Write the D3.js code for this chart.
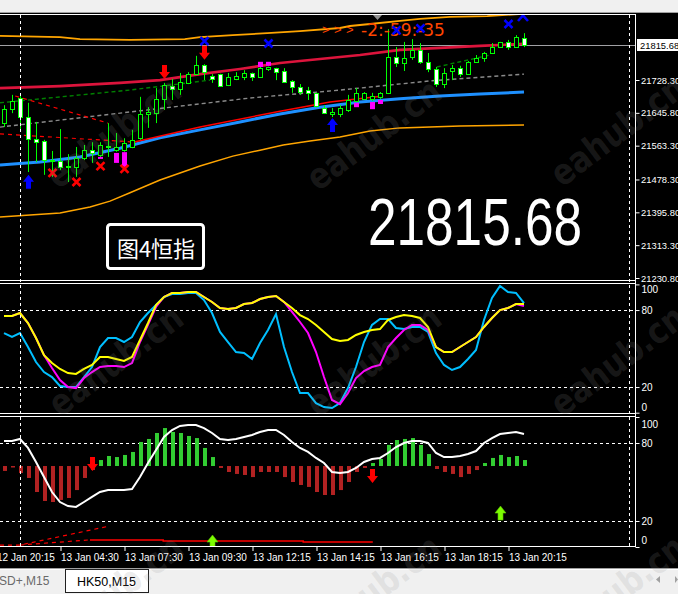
<!DOCTYPE html>
<html><head><meta charset="utf-8">
<script src="https://cdn.jsdelivr.net/npm/d3@7"></script>
<style>html,body{margin:0;padding:0;background:#000;overflow:hidden}svg{display:block}</style>
</head><body><svg id="c" width="678" height="594"></svg>
<script>
// ---------- DATA ----------
const openP  = [21620,21655,21683,21635,21580,21575,21527,21525,21510,21510,21532,21552,21540,21563,21552,21552,21560,21582,21643,21645,21681,21713,21706,21721,21743,21766,21738,21743,21716,21731,21736,21746,21736,21756,21758,21751,21726,21711,21703,21696,21658,21643,21643,21653,21676,21681,21681,21686,21696,21786,21771,21786,21804,21774,21756,21718,21751,21758,21743,21774,21784,21796,21811,21824,21811,21834];
const highP  = [21665,21691,21688,21671,21623,21578,21550,21605,21542,21560,21565,21572,21572,21620,21595,21582,21603,21686,21660,21708,21721,21731,21746,21748,21789,21768,21743,21744,21746,21748,21753,21747,21766,21762,21759,21758,21728,21718,21711,21697,21665,21658,21665,21691,21708,21698,21696,21698,21856,21811,21824,21831,21821,21796,21761,21758,21766,21764,21776,21791,21799,21821,21824,21829,21841,21846];
const lowP   = [21610,21645,21598,21497,21522,21490,21485,21502,21472,21485,21527,21520,21535,21535,21548,21548,21557,21578,21608,21620,21653,21678,21691,21718,21741,21728,21721,21711,21713,21728,21728,21726,21734,21751,21728,21721,21696,21691,21678,21660,21643,21635,21635,21648,21673,21678,21676,21681,21693,21761,21751,21779,21769,21748,21711,21708,21728,21736,21741,21771,21774,21796,21809,21804,21809,21811];
const closeP = [21655,21676,21635,21580,21573,21527,21525,21510,21511,21532,21552,21545,21565,21562,21560,21570,21578,21643,21648,21681,21716,21706,21723,21743,21766,21748,21731,21713,21736,21738,21746,21736,21758,21761,21748,21723,21711,21698,21696,21663,21645,21648,21658,21678,21696,21696,21688,21696,21786,21771,21784,21804,21774,21756,21718,21746,21758,21743,21774,21784,21796,21811,21824,21811,21836,21815.68];
const lastPrice = 21815.68;
const priceTicks = [21728.30,21645.80,21563.30,21478.30,21395.80,21313.30,21230.80];

// main-panel lines: bar index / price
const redMaIdx = [-0.5,7,14.5,19.5,24.5,29.5,34.5,39.5,44.5,49.5,54.5,59.5,65];
const redMa    = [21708,21713,21721,21728,21743,21756,21771,21781,21791,21804,21809,21814,21819];
const blueMaIdx= [-0.5,4.5,9.5,14.5,19.5,24.5,29.5,34.5,39.5,44.5,49.5,54.5,59.5,65];
const blueMa   = [21515,21522,21535,21557,21583,21603,21623,21643,21660,21673,21681,21688,21693,21698];
const redThinIdx = [15.75,24.5,34.5,40.75,47.4];
const redThin    = [21570,21610,21650,21673,21688];
const redDash1Idx = [-0.5,15.75]; const redDash1 = [21593,21573];
const redDash2Idx = [1.4,13];     const redDash2 = [21688,21620];
const grayDashIdx = [-0.5,15.75,30.75,42,53.25,65];
const grayDash    = [21610,21648,21683,21703,21726,21743];
const greenDashAIdx = [-0.5,15.75,25.75]; const greenDashA = [21671,21703,21728];
const greenDashBIdx = [54.1,60.75];       const greenDashB = [21761,21791];
const upBandIdx = [-0.5,7,9.5,15.75,22.6,24.5,28.6,32.9,37,42,43.25,45.75,49.5,52,55.75,60.4,64.5];
const upBand    = [21839,21836,21831,21829,21831,21836,21841,21846,21851,21859,21864,21869,21877,21882,21887,21889,21894];
const loBandIdx = [-0.5,3.25,7,10.75,13.25,15.75,19.5,24.5,28.6,32,34.9,38.25,42,45.75,49.5,53.25,57,65];
const loBand    = [21384,21389,21394,21409,21424,21445,21477,21512,21537,21552,21565,21575,21585,21600,21608,21610,21613,21615];

// markers (bar index, price)
const blueXIdx = [25,33,49,52,63];       const blueX = [21826,21820,21853,21858,21869];
const redXIdx  = [6,9,12,15];            const redX  = [21495,21472,21512,21505];
const redDownIdx = [20,25];              const redDown = [21731,21779];
const blueUpIdx  = [3,41];               const blueUp  = [21490,21633];
const magIdx = [12,14,15,32,33,44,46,47];
const magTop = [21535,21545,21547,21774,21774,21671,21673,21678];
const magBot = [21530,21520,21510,21761,21764,21660,21655,21668];

// oscillator panel 1 (0-100)
const cyanK = [62.1,59.0,62.1,51.2,39.5,31.7,27.8,20.8,20.0,20.0,27.8,35.6,51.2,58.2,58.2,55.1,59.0,70.7,77.7,83.9,90.2,92.5,92.5,93.3,93.3,87.8,77.7,62.9,55.1,47.3,46.5,41.9,54.3,64.5,76.9,51.2,31.7,15.3,15.3,7.5,4.4,3.6,7.5,19.2,35.6,55.1,68.4,73.0,73.0,66.0,65.2,66.8,66.8,62.9,46.5,37.2,33.3,35.6,41.9,48.9,72.3,89.4,98.8,94.1,93.3,85.5];
const magD  = [75.4,75.4,77.7,69.9,58.2,44.9,34.8,25.5,20.0,19.2,27.0,31.7,35.6,36.4,36.4,35.6,38.7,55.1,68.4,82.4,90.2,93.3,93.3,94.1,94.1,90.2,86.3,81.6,80.8,81.6,84.7,85.5,88.6,90.2,91.0,86.3,78.5,70.7,62.1,47.3,27.8,9.9,6.7,15.3,27.0,32.5,35.6,37.2,51.2,58.2,64.5,68.4,68.4,64.5,51.2,47.3,47.3,51.2,55.1,59.0,66.8,73.8,80.0,81.6,84.7,83.2];
const yelS  = [75.4,75.4,77.7,69.9,58.2,44.9,38.7,34.1,30.9,30.2,34.1,37.2,43.4,43.4,41.9,40.3,43.4,56.7,69.9,83.9,90.2,93.3,93.3,94.1,94.1,90.2,86.3,81.6,80.8,81.6,84.7,85.5,88.6,90.2,91.0,86.3,81.6,76.1,73.0,68.4,62.9,57.4,55.9,56.7,60.6,62.9,64.5,65.2,72.3,74.6,76.1,75.4,73.8,66.8,51.2,47.3,47.3,51.2,55.1,59.0,66.8,73.8,80.0,81.6,84.7,84.7];
const osc1Ticks = [0,20,80,100];

// oscillator panel 2 (0-100)
const whiteLine = [81.5,81.5,83.1,76.2,65.4,53.8,42.3,34.6,31.5,30.8,34.6,38.5,42.3,43.8,43.8,43.8,44.6,53.8,64.6,74.6,84.6,90.0,93.1,93.8,93.8,91.5,87.7,83.1,82.3,83.1,84.6,86.2,88.5,90.0,90.0,86.2,80.8,76.2,73.1,68.5,64.6,57.7,56.9,57.7,60.8,65.4,67.7,68.5,72.3,76.9,80.0,81.5,81.5,80.0,72.3,69.2,69.2,70.0,71.5,73.8,80.0,83.8,86.9,87.7,88.5,86.9];
const histBase = 62.3;
const histVal = [58.5,61.5,56.9,53.1,42.3,35.4,34.6,36.2,37.7,43.8,53.1,59.2,66.9,70.0,69.2,70.8,73.1,80.8,83.1,87.7,91.5,88.5,87.7,85.4,83.8,76.2,69.2,60.8,57.7,56.2,55.4,53.8,57.7,57.7,57.7,53.8,50.0,47.7,46.2,42.3,40.0,40.0,43.8,50.0,57.7,60.8,64.6,67.7,78.5,82.3,83.1,83.8,78.5,71.5,60.0,57.7,56.2,53.8,56.2,59.2,64.6,68.5,70.8,69.2,70.0,66.9];
const sigIdx = [10.75,19.9,19.9,37.4,37.4,46.1]; const sigVal = [5.4,5.4,4.6,4.6,3.8,3.8];
const sigDashAIdx = [-0.5,2,13.25]; const sigDashA = [1.5,1.5,16.2];
const sigDashBIdx = [2,10.5];       const sigDashB = [1.5,5.4];
const p2DownIdx = [11,46]; const p2Down = [58.5,49.2];
const p2UpIdx = [26,62];   const p2Up = [9.2,31.5];
const osc2Ticks = [0,20,80,100];

const xTickIdx = [-1,7,15,23,31,39,47,55,63];
const xTickLabels = ["12 Jan 20:15","13 Jan 04:30","13 Jan 07:30","13 Jan 09:30","13 Jan 12:15","13 Jan 14:15","13 Jan 16:15","13 Jan 18:15","13 Jan 20:15"];

// ---------- LAYOUT ----------
const W=678,H=594, AX=636;
const mainTop=15, mainBot=280, p1Top=284, p1Bot=413, p2Top=417, p2Bot=547;
const FONT = "'Liberation Sans', Arial, sans-serif";

const svg = d3.select('#c');
const defs = svg.append('defs');
function clip(id,y0,y1){ defs.append('clipPath').attr('id',id).append('rect').attr('x',0).attr('y',y0).attr('width',AX).attr('height',y1-y0); }
clip('cm',mainTop,mainBot); clip('c1',p1Top,p1Bot); clip('c2',p2Top,p2Bot);

const x  = d3.scaleLinear().domain([0,65]).range([4,524]);
const yP = d3.scaleLinear().domain([21230.8,21728.3]).range([278,80]);
const y1 = d3.scaleLinear().domain([0,100]).range([412.7,284.4]);
const y2 = d3.scaleLinear().domain([0,100]).range([547,417]);

// backgrounds
svg.append('rect').attr('width',W).attr('height',H).attr('fill','#000');
svg.append('rect').attr('width',W).attr('height',12).attr('fill','#f0f0f0');
svg.append('line').attr('x1',0).attr('x2',W).attr('y1',12.5).attr('y2',12.5).attr('stroke','#a0a0a0');
svg.append('line').attr('x1',0).attr('x2',W).attr('y1',568.5).attr('y2',568.5).attr('stroke','#a0a0a0');
svg.append('rect').attr('y',569).attr('width',W).attr('height',25).attr('fill','#f0f0f0');
svg.append('line').attr('x1',0).attr('x2',W).attr('y1',569.5).attr('y2',569.5).attr('stroke','#ffffff');

function lineFrom(idx, vals, yS){ return d3.line().x((d,k)=>x(idx[k])).y(d=>yS(d))(vals); }

// ---------- MAIN PANEL ----------
const gm = svg.append('g').attr('clip-path','url(#cm)');
gm.append('line').attr('x1',0).attr('x2',AX).attr('y1',Math.round(yP(lastPrice))+0.5).attr('y2',Math.round(yP(lastPrice))+0.5).attr('stroke','#a0a0a4');
gm.append('path').attr('d',lineFrom(upBandIdx,upBand,yP)).attr('fill','none').attr('stroke','#ffa500').attr('stroke-width',1.8);
gm.append('path').attr('d',lineFrom(loBandIdx,loBand,yP)).attr('fill','none').attr('stroke','#ffa500').attr('stroke-width',1.5);
gm.append('path').attr('d',lineFrom(grayDashIdx,grayDash,yP)).attr('fill','none').attr('stroke','#8a8a8a').attr('stroke-width',1.4).attr('stroke-dasharray','4,3');
gm.append('path').attr('d',lineFrom(greenDashAIdx,greenDashA,yP)).attr('fill','none').attr('stroke','#008000').attr('stroke-width',1.4).attr('stroke-dasharray','4,3');
gm.append('path').attr('d',lineFrom(greenDashBIdx,greenDashB,yP)).attr('fill','none').attr('stroke','#008000').attr('stroke-width',1.4).attr('stroke-dasharray','4,3');
gm.append('path').attr('d',lineFrom(redDash1Idx,redDash1,yP)).attr('fill','none').attr('stroke','#ff0000').attr('stroke-width',1.2).attr('stroke-dasharray','4,4');
gm.append('path').attr('d',lineFrom(redDash2Idx,redDash2,yP)).attr('fill','none').attr('stroke','#ff0000').attr('stroke-width',1.2).attr('stroke-dasharray','4,4');
gm.append('path').attr('d',lineFrom(redMaIdx,redMa,yP)).attr('fill','none').attr('stroke','#dc143c').attr('stroke-width',2.6);
gm.append('path').attr('d',lineFrom(blueMaIdx,blueMa,yP)).attr('fill','none').attr('stroke','#1e90ff').attr('stroke-width',3);
gm.append('path').attr('d',lineFrom(redThinIdx,redThin,yP)).attr('fill','none').attr('stroke','#ff0000').attr('stroke-width',1.5);

// candles
const cg = gm.append('g');
openP.forEach((o,i)=>{
  const cx = Math.round(x(i));
  const c = closeP[i];
  cg.append('line').attr('x1',cx+0.5).attr('x2',cx+0.5).attr('y1',yP(highP[i])).attr('y2',yP(lowP[i])).attr('stroke','#00ff00');
  const t = Math.round(yP(Math.max(o,c))), b = Math.round(yP(Math.min(o,c)));
  cg.append('rect').attr('x',cx-2+0.5).attr('y',t+0.5).attr('width',4).attr('height',Math.max(1,b-t))
    .attr('fill', c>=o ? '#000' : '#fff').attr('stroke','#00ff00');
});
// magenta blocks
magIdx.forEach((d,k)=>{
  const t=yP(magTop[k]), b=yP(magBot[k]);
  gm.append('rect').attr('x',Math.round(x(d))-2).attr('y',t).attr('width',5).attr('height',Math.max(2,b-t)).attr('fill','#ff00ff');
});

// top text
svg.append('polygon').attr('points','373,15 382,15 377.5,20').attr('fill','#909090');
[322,334,346].forEach(px=>svg.append('text').attr('x',px).attr('y',34).text('>').attr('font-family',FONT).attr('font-size',13).attr('fill','#ff4500'));
svg.append('text').attr('x',361).attr('y',35.5).text('-2:-59:-35').attr('font-family',"'DejaVu Sans', sans-serif").attr('font-size',17).attr('fill','#ff4500');

// marker shapes
function downArrow(cx,tip){ return `M${cx-2.5},${tip-14}H${cx+2.5}V${tip-7}H${cx+5.5}L${cx},${tip}L${cx-5.5},${tip-7}H${cx-2.5}Z`; }
function upArrow(cx,tip){ return `M${cx-2.5},${tip+14}H${cx+2.5}V${tip+7}H${cx+5.5}L${cx},${tip}L${cx-5.5},${tip+7}H${cx-2.5}Z`; }
function xMark(g,cx,cy,col){ const s=4;
  g.append('path').attr('d',`M${cx-s},${cy-s}L${cx+s},${cy+s}M${cx+s},${cy-s}L${cx-s},${cy+s}`).attr('stroke',col).attr('stroke-width',2.6).attr('fill','none'); }
const mk = svg.append('g');
redDownIdx.forEach((d,k)=>mk.append('path').attr('d',downArrow(x(d)+0.5,yP(redDown[k]))).attr('fill','#ff0000'));
blueUpIdx.forEach((d,k)=>mk.append('path').attr('d',upArrow(x(d)+0.5,yP(blueUp[k]))).attr('fill','#0000ff'));
redXIdx.forEach((d,k)=>xMark(mk,x(d)+0.5,yP(redX[k]),'#ff0000'));
blueXIdx.forEach((d,k)=>xMark(mk,x(d)+0.5,yP(blueX[k]),'#0000ff'));
mk.append('path').attr('d','M518,21L523,15.5L528,21').attr('stroke','#0000ff').attr('stroke-width',2.6).attr('fill','none');

// big price + label box
svg.append('text').attr('x',368).attr('y',245).text('21815.68').attr('font-family',FONT).attr('font-size',66)
  .attr('textLength',214).attr('lengthAdjust','spacingAndGlyphs').attr('fill','#fff').attr('stroke','#000').attr('stroke-width',1.5).attr('paint-order','stroke');
svg.append('rect').attr('x',107.5).attr('y',224.5).attr('width',96).attr('height',44).attr('rx',3).attr('fill','#000').attr('stroke','#fff').attr('stroke-width',3);
svg.append('text').attr('x',156).attr('y',257).attr('text-anchor','middle').text('图4恒指').attr('font-family',"'Noto Sans CJK SC', sans-serif").attr('font-size',22).attr('fill','#fff');

// ---------- PANEL 1 ----------
const g1 = svg.append('g').attr('clip-path','url(#c1)');
[80,20].forEach(v=>g1.append('line').attr('x1',0).attr('x2',AX).attr('y1',Math.round(y1(v))+0.5).attr('y2',Math.round(y1(v))+0.5).attr('stroke','#fff').attr('stroke-dasharray','3,3'));
const line1 = d3.line().x((d,i)=>x(i)).y(d=>y1(d));
g1.append('path').attr('d',line1(cyanK)).attr('fill','none').attr('stroke','#00bfff').attr('stroke-width',2);
g1.append('path').attr('d',line1(magD)).attr('fill','none').attr('stroke','#ff00ff').attr('stroke-width',2);
g1.append('path').attr('d',line1(yelS)).attr('fill','none').attr('stroke','#ffff00').attr('stroke-width',2);

// ---------- PANEL 2 ----------
const g2 = svg.append('g').attr('clip-path','url(#c2)');
[80,20].forEach(v=>g2.append('line').attr('x1',0).attr('x2',AX).attr('y1',Math.round(y2(v))+0.5).attr('y2',Math.round(y2(v))+0.5).attr('stroke','#fff').attr('stroke-dasharray','3,3'));
histVal.forEach((v,i)=>{
  const a=y2(Math.max(v,histBase)), b=y2(Math.min(v,histBase));
  g2.append('rect').attr('x',Math.round(x(i))-1).attr('y',a).attr('width',4).attr('height',Math.max(1.5,b-a))
    .attr('fill', v>=histBase ? '#32cd32' : '#b22222');
});
g2.append('path').attr('d',d3.line().x((d,i)=>x(i)).y(d=>y2(d))(whiteLine)).attr('fill','none').attr('stroke','#fff').attr('stroke-width',2);
g2.append('path').attr('d',lineFrom(sigIdx,sigVal,y2)).attr('fill','none').attr('stroke','#ff0000').attr('stroke-width',1.5);
g2.append('path').attr('d',lineFrom(sigDashAIdx,sigDashA,y2)).attr('fill','none').attr('stroke','#ff0000').attr('stroke-width',1.2).attr('stroke-dasharray','4,4');
g2.append('path').attr('d',lineFrom(sigDashBIdx,sigDashB,y2)).attr('fill','none').attr('stroke','#ff0000').attr('stroke-width',1.2).attr('stroke-dasharray','4,4');
p2DownIdx.forEach((d,k)=>g2.append('path').attr('d',downArrow(x(d)+0.5,y2(p2Down[k]))).attr('fill','#ff0000'));
p2UpIdx.forEach((d,k)=>g2.append('path').attr('d',upArrow(x(d)+0.5,y2(p2Up[k]))).attr('fill','#7cfc00').attr('stroke','#5cbf00').attr('stroke-width',0.6));

// ---------- FRAMES ----------
const fr = svg.append('g').attr('stroke','#fff').attr('stroke-width',1);
[14.5,280.5,283.5,413.5,416.5,546.5].forEach(yy=>fr.append('line').attr('x1',0).attr('x2',AX).attr('y1',yy).attr('y2',yy));
fr.append('line').attr('x1',AX-0.5).attr('x2',AX-0.5).attr('y1',14).attr('y2',547);
[20.5,629.5].forEach(xx=>svg.append('line').attr('x1',xx).attr('x2',xx).attr('y1',15).attr('y2',547).attr('stroke','#fff').attr('stroke-dasharray','3,3'));

// ---------- AXES ----------
function styleAxis(g,fs){ g.select('.domain').remove(); g.selectAll('line').attr('stroke','#fff');
  g.selectAll('text').attr('fill','#fff').attr('font-family',FONT).attr('font-size',fs||10); }
const ap = svg.append('g').attr('transform',`translate(${AX-0.5},0)`)
  .call(d3.axisRight(yP).tickValues(priceTicks).tickSize(4).tickPadding(1.5).tickFormat(d3.format('.2f')));
styleAxis(ap,9.4);
// current price label
svg.append('rect').attr('x',637).attr('y',39).attr('width',41).attr('height',12).attr('fill','#fff');
svg.append('text').attr('x',640).attr('y',48.6).text(d3.format('.2f')(lastPrice)).attr('font-family',FONT).attr('font-size',9.4).attr('fill','#000');

const a1 = svg.append('g').attr('transform',`translate(${AX-0.5},0)`)
  .call(d3.axisRight(y1).tickValues(osc1Ticks).tickSize(4).tickPadding(2).tickFormat(d3.format('d')));
styleAxis(a1);
a1.selectAll('.tick').filter(d=>d===100).select('text').attr('dy','0.85em');
a1.selectAll('.tick').filter(d=>d===0).select('text').attr('dy','-0.25em');
const a2 = svg.append('g').attr('transform',`translate(${AX-0.5},0)`)
  .call(d3.axisRight(y2).tickValues(osc2Ticks).tickSize(4).tickPadding(2).tickFormat(d3.format('d')));
styleAxis(a2);
a2.selectAll('.tick').filter(d=>d===100).select('text').attr('dy','1.0em');
a2.selectAll('.tick').filter(d=>d===0).select('text').attr('dy','-0.4em');

const ax = svg.append('g').attr('transform',`translate(0.5,${p2Bot})`)
  .call(d3.axisBottom(x).tickValues(xTickIdx).tickSize(4).tickPadding(3).tickFormat((d,k)=>xTickLabels[k]));
styleAxis(ax);
ax.selectAll('text').attr('text-anchor','start').attr('x',0);

// ---------- TABS ----------
svg.append('text').attr('x',-1).attr('y',585).text('SD+,M15').attr('font-family',FONT).attr('font-size',12).attr('fill','#6a6a6a');
svg.append('rect').attr('x',65.5).attr('y',569.5).attr('width',83).attr('height',23).attr('fill','#fff').attr('stroke','#202020');
svg.append('text').attr('x',77).attr('y',586).text('HK50,M15').attr('font-family',FONT).attr('font-size',12.5).attr('fill','#000');
svg.append('polygon').attr('points','656,579.5 660,576 660,583').attr('fill','#a0a0a0');
svg.append('polygon').attr('points','678,579.5 675,576 675,583').attr('fill','#a0a0a0');

// ---------- WATERMARK ----------
const wm = svg.append('g').attr('pointer-events','none');
[[58,190],[318,192],[562,188],[60,418],[318,418],[562,418],[60,648],[318,648],[562,648]].forEach(([wx,wy])=>{
  wm.append('text').attr('transform',`translate(${wx},${wy}) rotate(-37)`).text('eahub.cn')
    .attr('font-family',"'DejaVu Sans', sans-serif").attr('font-weight','bold').attr('font-size',36)
    .attr('textLength',158).attr('lengthAdjust','spacingAndGlyphs')
    .attr('fill','#909090').attr('fill-opacity',0.17);
});
</script>
</body></html>
